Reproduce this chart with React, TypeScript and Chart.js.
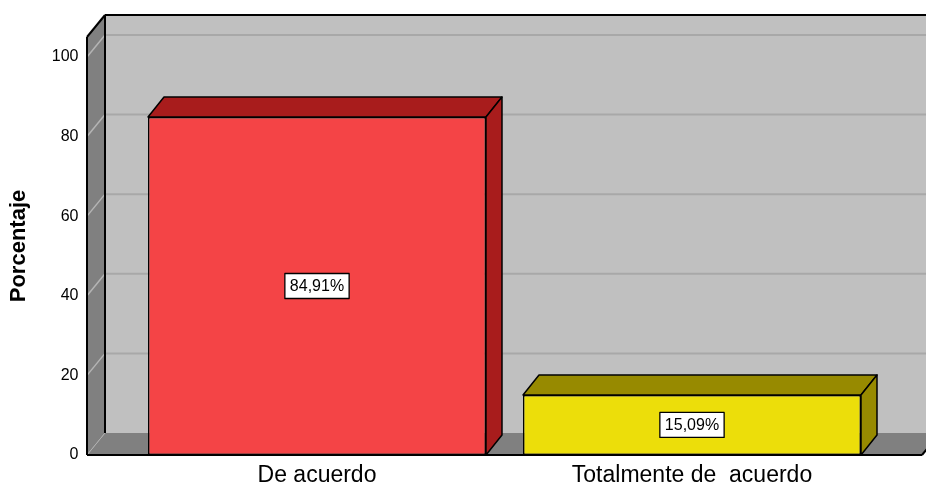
import React, { useEffect, useRef } from 'react';
import { Chart, registerables } from 'chart.js';

Chart.register(...registerables);

const CATEGORIES = ['De acuerdo', 'Totalmente de  acuerdo'];
const PERCENTAGES = [84.91, 15.09];
const FRONT_COLORS = ['#F44446', '#ECDE0A'];
const SIDE_COLORS = ['#A81C1C', '#978A00'];
const Y_TICKS = [0, 20, 40, 60, 80, 100];
const Y_MAX = 105;
const Y_TITLE = 'Porcentaje';

const FONT = "'Liberation Sans', Arial, sans-serif";

// decoration geometry (3D look)
const WALL_DX = 18;
const WALL_DY = 22;
const BAR_DX = 16;
const BAR_DY = 20;
const WALL_MARGIN = 42.5;

const formatPct = (v: number) => v.toFixed(2).replace('.', ',') + '%';

const threeDPlugin = {
  id: 'threeD',
  beforeDatasetsDraw(chart: any) {
    const { ctx, chartArea, scales } = chart;
    const y = scales.y;
    const y0 = y.getPixelForValue(0);
    const yTop = y.getPixelForValue(Y_MAX);
    const FL = chartArea.left - WALL_MARGIN;
    const FR = chartArea.right + WALL_MARGIN;
    const line = (x1: number, y1: number, x2: number, y2: number, color: string, w: number) => {
      ctx.beginPath();
      ctx.moveTo(x1, y1);
      ctx.lineTo(x2, y2);
      ctx.strokeStyle = color;
      ctx.lineWidth = w;
      ctx.stroke();
    };
    const poly = (pts: number[][], fill: string) => {
      ctx.beginPath();
      pts.forEach((p, i) => (i ? ctx.lineTo(p[0], p[1]) : ctx.moveTo(p[0], p[1])));
      ctx.closePath();
      ctx.fillStyle = fill;
      ctx.fill();
    };
    ctx.save();
    // back wall
    poly(
      [
        [FL + WALL_DX, yTop - WALL_DY],
        [FR + WALL_DX, yTop - WALL_DY],
        [FR + WALL_DX, y0 - WALL_DY],
        [FL + WALL_DX, y0 - WALL_DY],
      ],
      '#C0C0C0'
    );
    // back wall grid lines
    Y_TICKS.filter((v) => v > 0).forEach((v) => {
      const py = y.getPixelForValue(v);
      line(FL + WALL_DX, py - WALL_DY, FR + WALL_DX, py - WALL_DY, '#A8A8A8', 2);
    });
    // side wall
    poly(
      [
        [FL, yTop],
        [FL + WALL_DX, yTop - WALL_DY],
        [FL + WALL_DX, y0 - WALL_DY],
        [FL, y0],
      ],
      '#808080'
    );
    Y_TICKS.filter((v) => v > 0).forEach((v) => {
      const py = y.getPixelForValue(v);
      line(FL, py, FL + WALL_DX, py - WALL_DY, '#B4B4B4', 1.5);
    });
    // floor
    poly(
      [
        [FL, y0],
        [FL + WALL_DX, y0 - WALL_DY],
        [FR + WALL_DX, y0 - WALL_DY],
        [FR, y0],
      ],
      '#808080'
    );
    line(FL, y0, FL + WALL_DX, y0 - WALL_DY, '#B0B0B0', 1);
    // edges
    line(FL + WALL_DX, yTop - WALL_DY, FR + WALL_DX + 10, yTop - WALL_DY, '#000', 2);
    line(FL + WALL_DX, yTop - WALL_DY, FL + WALL_DX, y0 - WALL_DY, '#000', 2);
    line(FL, yTop, FL + WALL_DX, yTop - WALL_DY, '#000', 2);
    line(FL, yTop, FL, y0, '#000', 2);
    line(FL, y0, FR, y0, '#000', 2);
    line(FR, y0, FR + WALL_DX, y0 - WALL_DY, '#000', 2);
    ctx.restore();
  },
  afterDatasetsDraw(chart: any) {
    const { ctx } = chart;
    const meta = chart.getDatasetMeta(0);
    ctx.save();
    meta.data.forEach((bar: any, i: number) => {
      const { x, y, base, width } = bar.getProps(['x', 'y', 'base', 'width'], true);
      const x1 = x - width / 2;
      const x2 = x + width / 2;
      const face = (pts: number[][]) => {
        ctx.beginPath();
        pts.forEach((p, k) => (k ? ctx.lineTo(p[0], p[1]) : ctx.moveTo(p[0], p[1])));
        ctx.closePath();
        ctx.fillStyle = SIDE_COLORS[i];
        ctx.fill();
        ctx.strokeStyle = '#000';
        ctx.lineWidth = 1.5;
        ctx.lineJoin = 'round';
        ctx.stroke();
      };
      face([
        [x1, y],
        [x1 + BAR_DX, y - BAR_DY],
        [x2 + BAR_DX, y - BAR_DY],
        [x2, y],
      ]);
      face([
        [x2, y],
        [x2 + BAR_DX, y - BAR_DY],
        [x2 + BAR_DX, base - BAR_DY],
        [x2, base],
      ]);
      // value label
      const text = formatPct(PERCENTAGES[i]);
      ctx.font = `16px ${FONT}`;
      const tw = ctx.measureText(text).width;
      const cy = (y + base) / 2;
      const bw = tw + 10;
      const bh = 25;
      ctx.fillStyle = '#FFFFFF';
      ctx.fillRect(x - bw / 2, cy - bh / 2, bw, bh);
      ctx.strokeStyle = '#000';
      ctx.lineWidth = 1.3;
      ctx.strokeRect(x - bw / 2, cy - bh / 2, bw, bh);
      ctx.fillStyle = '#000';
      ctx.textAlign = 'center';
      ctx.textBaseline = 'middle';
      ctx.fillText(text, x, cy + 1);
    });
    ctx.restore();
  },
};

export default function App() {
  const canvasRef = useRef<HTMLCanvasElement | null>(null);

  useEffect(() => {
    if (!canvasRef.current) return;
    Chart.defaults.font.family = FONT;
    const chart = new Chart(canvasRef.current, {
      type: 'bar',
      data: {
        labels: CATEGORIES,
        datasets: [
          {
            data: PERCENTAGES,
            backgroundColor: FRONT_COLORS,
            borderColor: '#000',
            borderWidth: 1.5,
            borderSkipped: false,
            categoryPercentage: 1,
            barPercentage: 0.9013,
          },
        ],
      },
      options: {
        animation: false,
        responsive: false,
        devicePixelRatio: 1,
        layout: { padding: { top: 37, right: 46.5, left: 0, bottom: 0 } },
        plugins: {
          legend: { display: false },
          tooltip: { enabled: false },
        },
        scales: {
          x: {
            grid: { display: false, drawTicks: false },
            border: { display: false },
            ticks: { color: '#000', font: { size: 23 }, padding: 7, maxRotation: 0, autoSkip: false },
            afterFit: (s: any) => {
              s.height = 31;
              s.paddingLeft = 0;
              s.paddingRight = 0;
            },
          },
          y: {
            min: 0,
            max: Y_MAX,
            afterBuildTicks: (s: any) => {
              s.ticks = Y_TICKS.map((v) => ({ value: v }));
            },
            grid: { display: false, drawTicks: false },
            border: { display: false },
            ticks: { color: '#000', font: { size: 16 }, padding: 51 },
            title: {
              display: true,
              text: Y_TITLE,
              color: '#000',
              font: { size: 22, weight: 'bold' },
              padding: { top: 6, bottom: 0 },
            },
            afterFit: (s: any) => {
              s.width = 129.5;
              s.paddingTop = 0;
              s.paddingBottom = 0;
            },
          },
        },
      },
      plugins: [threeDPlugin],
    });
    return () => chart.destroy();
  }, []);

  return (
    <div style={{ position: 'absolute', left: 0, top: 0, width: 926, height: 486, background: '#fff' }}>
      <canvas ref={canvasRef} width={926} height={486} style={{ width: 926, height: 486 }} />
    </div>
  );
}
